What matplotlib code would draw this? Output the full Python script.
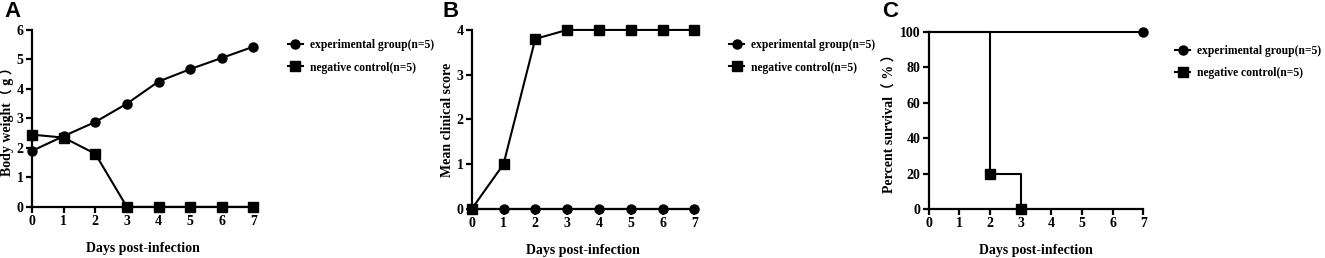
import matplotlib
matplotlib.use("Agg")
import matplotlib.pyplot as plt

days = [0, 1, 2, 3, 4, 5, 6, 7]

weight_exp = [1.9, 2.4, 2.88, 3.5, 4.25, 4.67, 5.05, 5.43]
weight_neg = [2.45, 2.35, 1.8, 0, 0, 0, 0, 0]

score_exp = [0, 0, 0, 0, 0, 0, 0, 0]
score_neg = [0, 1, 3.8, 4, 4, 4, 4, 4]

surv_exp_days = [0, 7]
surv_exp = [100, 100]
surv_neg_days = [0, 2, 3]
surv_neg = [100, 20, 0]

LABEL_EXP = "experimental group(n=5)"
LABEL_NEG = "negative control(n=5)"

SERIF = ["Liberation Serif", "Noto Sans CJK SC", "DejaVu Serif"]
plt.rcParams.update({
    "font.family": SERIF,
    "font.weight": "bold",
    "font.size": 10,
    "axes.labelweight": "bold",
    "axes.linewidth": 1.6,
    "xtick.major.width": 1.6,
    "ytick.major.width": 1.6,
    "xtick.major.size": 4,
    "ytick.major.size": 4,
    "axes.spines.top": False,
    "axes.spines.right": False,
})

fig = plt.figure(figsize=(13.25, 2.58), dpi=100)
ax_a = fig.add_axes([0.0242, 0.198, 0.167, 0.686])
ax_b = fig.add_axes([0.356, 0.19, 0.168, 0.694])
ax_c = fig.add_axes([0.701, 0.19, 0.162, 0.686])

line_kw = dict(color="black", linewidth=1.5, clip_on=False)
MS = 6.5


def style(ax, ylim, yticks, ylabel, legend_xy):
    ax.set_xlim(0, 7)
    ax.set_ylim(*ylim)
    ax.set_xticks(days)
    ax.set_yticks(yticks)
    ax.set_xlabel("Days post-infection", labelpad=10)
    ax.set_ylabel(ylabel, labelpad=2)
    ax.tick_params(direction="out", pad=2)
    for lab in ax.get_xticklabels() + ax.get_yticklabels():
        lab.set_fontweight("bold")
    ax.legend(loc="upper left", bbox_to_anchor=legend_xy, frameon=False,
              borderaxespad=0, handlelength=1.3, handletextpad=0.6, labelspacing=0.9,
              prop={"family": SERIF, "weight": "bold", "size": 8.4})


# A
ax_a.plot(days, weight_exp, marker="o", markersize=MS, label=LABEL_EXP, **line_kw)
ax_a.plot(days, weight_neg, marker="s", markersize=MS, label=LABEL_NEG, **line_kw)
style(ax_a, (0, 6), range(0, 7), "Body weight（ g ）", (1.135, 0.975))

# B
ax_b.plot(days, score_exp, marker="o", markersize=MS, label=LABEL_EXP, **line_kw)
ax_b.plot(days, score_neg, marker="s", markersize=MS, label=LABEL_NEG, **line_kw)
style(ax_b, (0, 4), range(0, 5), "Mean clinical score", (1.135, 0.975))

# C
ax_c.step(surv_exp_days, surv_exp, where="post", **line_kw)
ax_c.plot(surv_exp_days[-1:], surv_exp[-1:], marker="o", markersize=MS, linestyle="none",
          color="black", clip_on=False)
ax_c.step(surv_neg_days, surv_neg, where="post", **line_kw)
ax_c.plot(surv_neg_days[1:], surv_neg[1:], marker="s", markersize=MS, linestyle="none",
          color="black", clip_on=False)
ax_c.plot([], [], marker="o", markersize=MS, color="black", linewidth=1.5, label=LABEL_EXP)
ax_c.plot([], [], marker="s", markersize=MS, color="black", linewidth=1.5, label=LABEL_NEG)
style(ax_c, (0, 100), range(0, 101, 20), "Percent survival（ % ）", (1.125, 0.955))

for x, letter in [(0.003, "A"), (0.334, "B"), (0.666, "C")]:
    fig.text(x, 0.995, letter, ha="left", va="top", fontsize=16, fontweight="bold",
             family=["Liberation Sans", "DejaVu Sans"])

fig.savefig("out.png", dpi=100)
